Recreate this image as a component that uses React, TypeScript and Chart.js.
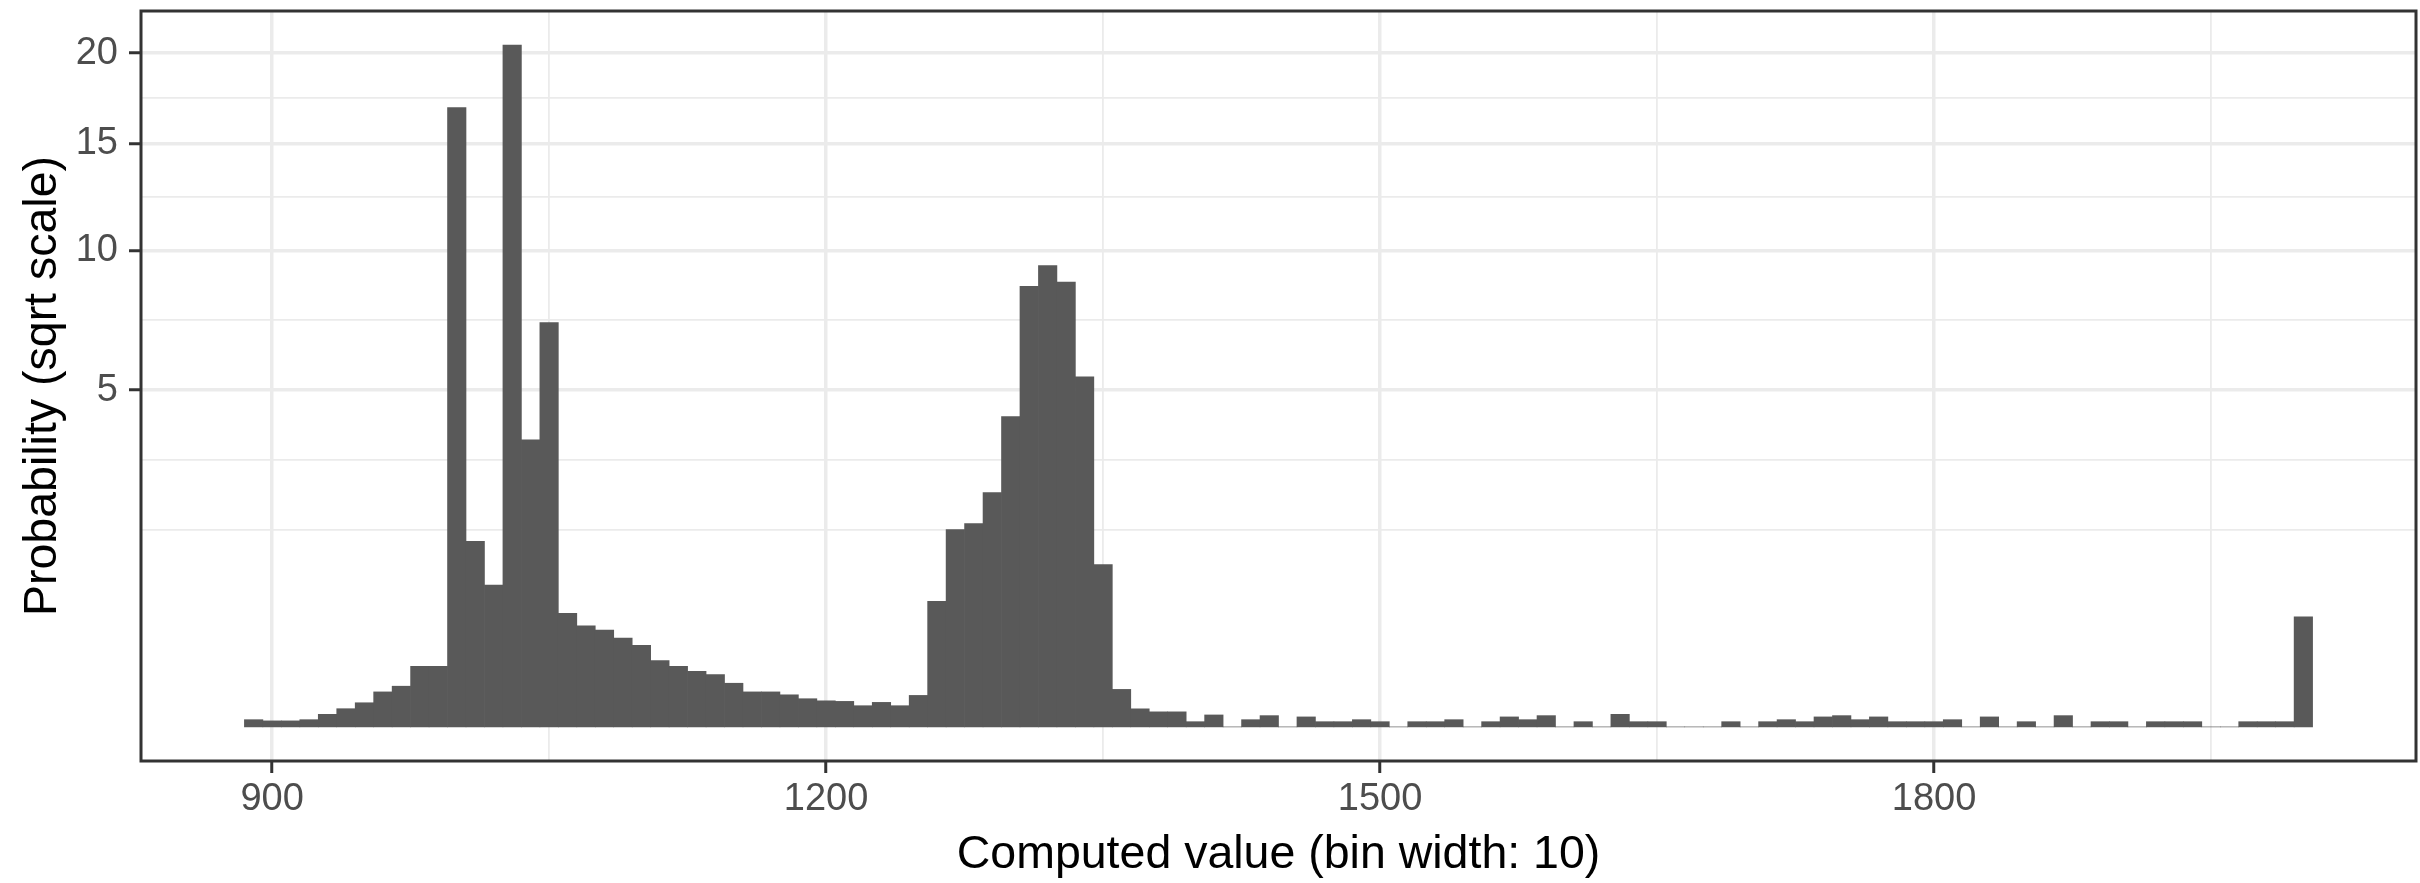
import React, { useEffect, useRef } from 'react';
import { Chart, registerables } from 'chart.js';

Chart.register(...registerables);

// Histogram bin centres (bin width 10, first bin 885–895)
const BIN_CENTERS = [
  890, 900, 910, 920, 930, 940, 950, 960, 970, 980,
  990, 1000, 1010, 1020, 1030, 1040, 1050, 1060, 1070, 1080,
  1090, 1100, 1110, 1120, 1130, 1140, 1150, 1160, 1170, 1180,
  1190, 1200, 1210, 1220, 1230, 1240, 1250, 1260, 1270, 1280,
  1290, 1300, 1310, 1320, 1330, 1340, 1350, 1360, 1370, 1380,
  1390, 1400, 1410, 1420, 1430, 1440, 1450, 1460, 1470, 1480,
  1490, 1500, 1510, 1520, 1530, 1540, 1550, 1560, 1570, 1580,
  1590, 1600, 1610, 1620, 1630, 1640, 1650, 1660, 1670, 1680,
  1690, 1700, 1710, 1720, 1730, 1740, 1750, 1760, 1770, 1780,
  1790, 1800, 1810, 1820, 1830, 1840, 1850, 1860, 1870, 1880,
  1890, 1900, 1910, 1920, 1930, 1940, 1950, 1960, 1970, 1980,
  1990, 2000,
];
const BIN_WIDTH = 10;

// Probability per bin
const PROBABILITY = [
  0.0023, 0.0016, 0.0016, 0.0023, 0.007, 0.0146, 0.0257, 0.054, 0.073, 0.162,
  0.162, 16.9, 1.516, 0.886, 20.48, 3.63, 7.2, 0.569, 0.45, 0.412,
  0.347, 0.293, 0.194, 0.162, 0.136, 0.121, 0.084, 0.054, 0.054, 0.0454,
  0.035, 0.030, 0.0287, 0.0198, 0.0265, 0.0198, 0.0437, 0.694, 1.717, 1.823,
  2.417, 4.244, 8.55, 9.38, 8.72, 5.4, 1.16, 0.062, 0.0144, 0.010,
  0.010, 0.0012, 0.0063, 0, 0.0023, 0.0056, 0, 0.0044, 0.0012, 0.0012,
  0.0023, 0.0012, 0, 0.0012, 0.0012, 0.0023, 0, 0.0012, 0.0044, 0.0023,
  0.0056, 0, 0.0012, 0, 0.007, 0.0012, 0.0012, 0, 0, 0,
  0.0012, 0, 0.0012, 0.0023, 0.0012, 0.0044, 0.0056, 0.0023, 0.0044, 0.0012,
  0.0012, 0.0012, 0.0023, 0, 0.0044, 0, 0.0012, 0, 0.0056, 0,
  0.0012, 0.0012, 0, 0.0012, 0.0012, 0.0012, 0, 0, 0.0012, 0.0012,
  0.0012, 0.533,
];

const X_MAJOR_TICKS = [900, 1200, 1500, 1800];
const X_MINOR_TICKS = [1050, 1350, 1650, 1950];
const Y_MAJOR_TICKS = [5, 10, 15, 20];

const X_TITLE = 'Computed value (bin width: 10)';
const Y_TITLE = 'Probability (sqrt scale)';

const FONT = '"Liberation Sans", Arial, Helvetica, sans-serif';
const BAR_FILL = '#595959';
const GRID = '#ebebeb';
const AXIS_DARK = '#333333';
const TICK_TEXT = '#4d4d4d';

export default function App() {
  const canvasRef = useRef<HTMLCanvasElement | null>(null);

  useEffect(() => {
    const canvas = canvasRef.current;
    if (!canvas) return;

    // x limits: data range expanded by 5%
    const xLo = BIN_CENTERS[0] - BIN_WIDTH / 2;
    const xHi = BIN_CENTERS[BIN_CENTERS.length - 1] + BIN_WIDTH / 2;
    const xPad = (xHi - xLo) * 0.05;

    // y in sqrt space, expanded by 5%
    const sMax = Math.sqrt(Math.max(...PROBABILITY));
    const yPad = sMax * 0.05;

    const sMajor = Y_MAJOR_TICKS.map((v) => Math.sqrt(v));
    const step = sMajor[1] - sMajor[0];
    const sExt = [sMajor[0] - step, ...sMajor];
    const sMinor: number[] = [sMajor[0] - step];
    for (let i = 1; i < sExt.length; i++) sMinor.push((sExt[i] + sExt[i - 1]) / 2);
    const yTickVals = [...sMinor, ...sMajor].sort((a, b) => a - b);
    const isYMajor = (v: number) => sMajor.some((m) => Math.abs(m - v) < 1e-9);
    const isXMajor = (v: number) => X_MAJOR_TICKS.includes(v);

    const panelBorder = {
      id: 'panelBorder',
      afterDraw(chart: any) {
        const { ctx, chartArea: a } = chart;
        ctx.save();
        ctx.strokeStyle = AXIS_DARK;
        ctx.lineWidth = 3;
        ctx.strokeRect(a.left, a.top, a.right - a.left, a.bottom - a.top);
        ctx.restore();
      },
    };

    const chart = new Chart(canvas, {
      type: 'bar',
      data: {
        datasets: [
          {
            data: BIN_CENTERS.map((x, i) => ({ x, y: Math.sqrt(PROBABILITY[i]) })),
            backgroundColor: BAR_FILL,
            borderWidth: 0,
            barPercentage: 1,
            categoryPercentage: 1,
          } as any,
        ],
      },
      options: {
        animation: false,
        responsive: false,
        maintainAspectRatio: false,
        layout: { padding: { top: 11, right: 4, left: 0, bottom: 0 } },
        plugins: { legend: { display: false }, tooltip: { enabled: false } },
        scales: {
          x: {
            type: 'linear',
            offset: false,
            min: xLo - xPad,
            max: xHi + xPad,
            afterBuildTicks: (s: any) => {
              s.ticks = [...X_MINOR_TICKS, ...X_MAJOR_TICKS]
                .sort((a, b) => a - b)
                .map((v) => ({ value: v }));
            },
            afterFit: (s: any) => {
              s.height = 122;
              s.paddingLeft = 0;
              s.paddingRight = 0;
            },
            ticks: {
              autoSkip: false,
              maxRotation: 0,
              padding: 4,
              color: TICK_TEXT,
              font: { family: FONT, size: 38 },
              callback: (v: any) => (isXMajor(Number(v)) ? String(v) : ''),
            },
            grid: {
              offset: false,
              color: GRID,
              lineWidth: (c: any) => (isXMajor(c.tick?.value) ? 3.5 : 1.8),
              tickColor: (c: any) => (isXMajor(c.tick?.value) ? AXIS_DARK : 'rgba(0,0,0,0)'),
              tickLength: 12,
              tickWidth: 3,
              drawTicks: true,
            },
            border: { display: false },
            title: {
              display: true,
              text: X_TITLE,
              color: '#000000',
              font: { family: FONT, size: 46.5 },
              padding: { top: 0, bottom: 0 },
            },
          } as any,
          y: {
            type: 'linear',
            min: -yPad,
            max: sMax + yPad,
            afterBuildTicks: (s: any) => {
              s.ticks = yTickVals.map((v) => ({ value: v }));
            },
            afterFit: (s: any) => {
              s.width = 141;
              s.paddingTop = 0;
              s.paddingBottom = 0;
            },
            ticks: {
              autoSkip: false,
              padding: 11,
              color: TICK_TEXT,
              font: { family: FONT, size: 38 },
              callback: (v: any) => (isYMajor(Number(v)) ? String(Math.round(Number(v) * Number(v))) : ''),
            },
            grid: {
              color: GRID,
              lineWidth: (c: any) => (isYMajor(c.tick?.value) ? 3.5 : 1.8),
              tickColor: (c: any) => (isYMajor(c.tick?.value) ? AXIS_DARK : 'rgba(0,0,0,0)'),
              tickLength: 12,
              tickWidth: 3,
              drawTicks: true,
            },
            border: { display: false },
            title: {
              display: true,
              text: Y_TITLE,
              color: '#000000',
              font: { family: FONT, size: 46.5 },
              padding: { top: 15, bottom: 0 },
            },
          } as any,
        },
      },
      plugins: [panelBorder],
    });

    return () => chart.destroy();
  }, []);

  return (
    <div style={{ position: 'fixed', left: 0, top: 0, width: 2420, height: 883, background: '#ffffff' }}>
      <canvas ref={canvasRef} width={2420} height={883} style={{ display: 'block', width: 2420, height: 883 }} />
    </div>
  );
}
